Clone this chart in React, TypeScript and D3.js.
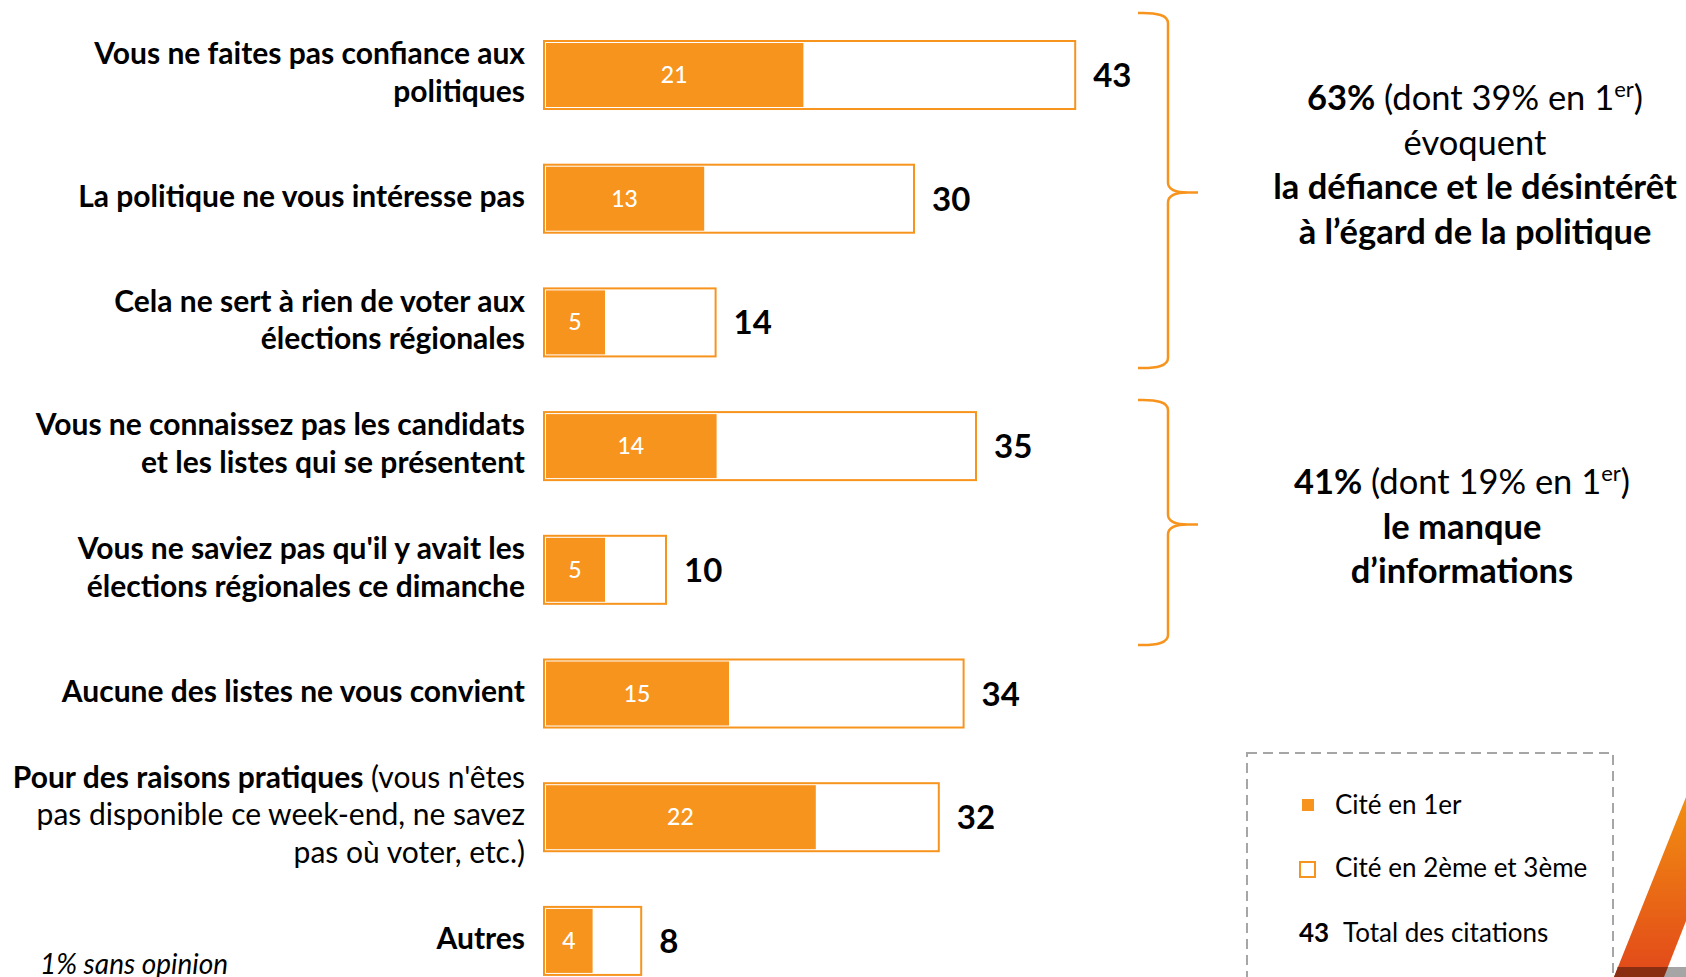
import React from "react";
import * as d3 from "d3";

// ---------- data ----------
const labelLines: { b: string; r: string }[][] = [
  [{ b: "Vous ne faites pas confiance aux", r: "" }, { b: "politiques", r: "" }],
  [{ b: "La politique ne vous intéresse pas", r: "" }],
  [{ b: "Cela ne sert à rien de voter aux", r: "" }, { b: "élections régionales", r: "" }],
  [{ b: "Vous ne connaissez pas les candidats", r: "" }, { b: "et les listes qui se présentent", r: "" }],
  [{ b: "Vous ne saviez pas qu'il y avait les", r: "" }, { b: "élections régionales ce dimanche", r: "" }],
  [{ b: "Aucune des listes ne vous convient", r: "" }],
  [
    { b: "Pour des raisons pratiques", r: " (vous n'êtes" },
    { b: "", r: "pas disponible ce week-end, ne savez" },
    { b: "", r: "pas où voter, etc.)" },
  ],
  [{ b: "Autres", r: "" }],
];
const firstCited = [21, 13, 5, 14, 5, 15, 22, 4];
const totalCited = [43, 30, 14, 35, 10, 34, 32, 8];

const groups = [
  { from: 0, to: 2, lines: ["63%|(dont 39% en 1|er|)", "évoquent", "*la défiance et le désintérêt", "*à l’égard de la politique"] },
  { from: 3, to: 4, lines: ["41%|(dont 19% en 1|er|)", "*le manque", "*d’informations"] },
];
const legendItems = ["Cité en 1er", "Cité en 2ème et 3ème", "Total des citations"];
const legendTotalExample = 43;
const footnote = "1% sans opinion";

// ---------- styles ----------
const W = 1686;
const H = 977;
const ORANGE = "#F7941E";
const FONT = "Lato, 'Open Sans', sans-serif";

export default function App() {
  const ids = firstCited.map((_, i) => i);
  const x = d3.scaleLinear().domain([0, 43]).range([543, 543 + 43 * 12.4]);
  const step = 123.7;
  const y = d3
    .scaleBand<number>()
    .domain(ids)
    .range([40, 40 + step * (ids.length - 0.434)])
    .paddingInner(0.434)
    .paddingOuter(0);
  const bw = y.bandwidth();
  const lh = 37.6;

  const brace = (top: number, bot: number) => {
    const x0 = 1138;
    const xv = 1168;
    const xt = 1198;
    const mid = (top + bot) / 2 + 2;
    const r = 10;
    const p = d3.path();
    p.moveTo(x0, top);
    p.quadraticCurveTo(xv, top - 1, xv, top + r);
    p.lineTo(xv, mid - r);
    p.quadraticCurveTo(xv, mid, xt - 10, mid);
    p.lineTo(xt, mid);
    p.moveTo(xt - 10, mid);
    p.quadraticCurveTo(xv, mid, xv, mid + r);
    p.lineTo(xv, bot - r);
    p.quadraticCurveTo(xv, bot + 1, x0, bot);
    return p.toString();
  };

  const groupGeo = [
    { top: 13, bot: 368, cx: 1475, base: 110, lh: 44.6 },
    { top: 400, bot: 645, cx: 1462, base: 494, lh: 44.6 },
  ];

  return (
    <svg
      width={W}
      height={H}
      style={{ position: "absolute", left: 0, top: 0, display: "block", background: "#fff" }}
      fontFamily={FONT}
    >
      <defs>
        <linearGradient id="stripe" x1="0" y1="0" x2="0" y2="1">
          <stop offset="0" stopColor="#F29010" />
          <stop offset="1" stopColor="#E2481A" />
        </linearGradient>
      </defs>
      <rect x={0} y={0} width={W} height={H} fill="#fff" />

      {/* bars */}
      {ids.map((i) => {
        const top = y(i)!;
        const cy = top + bw / 2;
        const x0 = x(0);
        const xt = x(totalCited[i]);
        const xf = x(firstCited[i]);
        const lines = labelLines[i];
        const n = lines.length;
        return (
          <g key={i}>
            <rect x={x0 + 1} y={top + 1} width={xt - x0 - 2} height={bw - 2} fill="#fff" stroke={ORANGE} strokeWidth={2} />
            <rect x={x0 + 3} y={top + 3} width={xf - x0 - 3} height={bw - 6} fill={ORANGE} />
            <text x={(x0 + xf) / 2 + 1} y={cy + 8} textAnchor="middle" fill="#fff" fontSize={23} fontWeight={500}>
              {firstCited[i]}
            </text>
            <text x={xt + 17} y={cy + 12} fill="#000" fontSize={33} fontWeight={700}>
              {totalCited[i]}
            </text>
            {lines.map((ln, j) => (
              <text
                key={j}
                x={525}
                y={cy + (j - (n - 1) / 2) * lh + 8}
                textAnchor="end"
                fontSize={30}
                fill="#000"
              >
                {ln.b && <tspan fontWeight={700}>{ln.b}</tspan>}
                {ln.r && <tspan fontWeight={400}>{ln.r}</tspan>}
              </text>
            ))}
          </g>
        );
      })}

      {/* braces and group texts */}
      {groups.map((g, gi) => {
        const geo = groupGeo[gi];
        return (
          <g key={gi}>
            <path d={brace(geo.top, geo.bot)} fill="none" stroke={ORANGE} strokeWidth={2.5} />
            {g.lines.map((ln, j) => {
              const yy = geo.base + j * geo.lh;
              if (ln.includes("|")) {
                const [bold, reg, sup, close] = ln.split("|");
                return (
                  <text key={j} x={geo.cx} y={yy} textAnchor="middle" fontSize={34.5} fill="#000">
                    <tspan fontWeight={700}>{bold}</tspan>
                    <tspan fontWeight={400}> {reg}</tspan>
                    <tspan fontWeight={400} fontSize={22} dy={-13}>{sup}</tspan>
                    <tspan fontWeight={400} dy={13}>{close}</tspan>
                  </text>
                );
              }
              const isBold = ln.startsWith("*");
              return (
                <text key={j} x={geo.cx} y={yy} textAnchor="middle" fontSize={34.5} fill="#000" fontWeight={isBold ? 700 : 400}>
                  {isBold ? ln.slice(1) : ln}
                </text>
              );
            })}
          </g>
        );
      })}

      {/* legend */}
      <rect x={1247} y={753} width={366} height={300} fill="none" stroke="#A6A6A6" strokeWidth={2} strokeDasharray="10 6" />
      <rect x={1302} y={799} width={12} height={12} fill={ORANGE} />
      <text x={1335} y={814} fontSize={26} fill="#000">{legendItems[0]}</text>
      <rect x={1300} y={862} width={15} height={15} fill="#fff" stroke={ORANGE} strokeWidth={2} />
      <text x={1335} y={877} fontSize={26} fill="#000">{legendItems[1]}</text>
      <text x={1299} y={942} fontSize={26} fontWeight={700} fill="#000">{legendTotalExample}</text>
      <text x={1343} y={942} fontSize={26} fill="#000">{legendItems[2]}</text>

      {/* footnote */}
      <text x={40} y={974} fontSize={28} fontStyle="italic" fill="#000">{footnote}</text>

      {/* decorative corner */}
      <polygon points="1614,977 1686,797 1686,921 1664,977" fill="url(#stripe)" />
      <rect x={1617} y={967} width={69} height={10} fill="#A5A5A5" />
      <polygon points="1618,967 1668,967 1664,977 1614,977" fill="#8A2E12" />
    </svg>
  );
}
